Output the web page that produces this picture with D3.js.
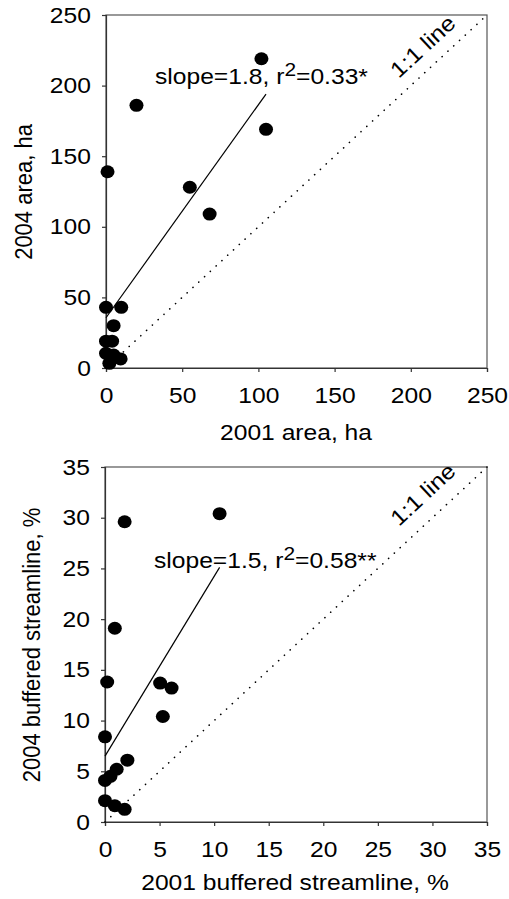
<!DOCTYPE html>
<html><head><meta charset="utf-8">
<script src="https://cdn.jsdelivr.net/npm/d3@7/dist/d3.min.js"></script>
<style>body{margin:0;background:#fff}svg{display:block}text{font-family:"Liberation Sans",Arial,sans-serif;fill:#000}</style>
</head><body>
<svg id="c" width="509" height="899"></svg>
<script>
// Top panel: area, ha
const areaX2001 = [102, 20, 105, 1, 55, 68, 0, 10, 5, 0, 4, 0, 5, 9.6, 2.2];
const areaY2004 = [219, 186, 169, 139, 128, 109, 43, 43, 30, 19, 19, 10.4, 9.2, 6.4, 3.3];
const areaFit = [[0, 35.6], [105, 194]];
const areaTicks = [0, 50, 100, 150, 200, 250];
// Bottom panel: buffered streamline, %
const bufX2001 = [1.8, 10.5, 0.9, 0.2, 5.05, 6.1, 5.3, 0, 2.05, 1.07, 0.5, 0, 0, 0.9, 1.8];
const bufY2004 = [29.6, 30.4, 19.1, 13.8, 13.7, 13.2, 10.4, 8.4, 6.1, 5.2, 4.5, 4.1, 2.1, 1.6, 1.25];
const bufFit = [[0, 6.5], [10.5, 25.1]];
const bufTicks = [0, 5, 10, 15, 20, 25, 30, 35];

const SX = 1.12; // horizontal text stretch
const FS = 22;
const svg = d3.select("#c");

function panel(cfg){
  const x = d3.scaleLinear().domain([0, cfg.max]).range(cfg.xr);
  const y = d3.scaleLinear().domain([0, cfg.max]).range(cfg.yr);
  const g = svg.append("g");
  g.append("rect").attr("x", x(0)).attr("y", y(cfg.max))
    .attr("width", x(cfg.max)-x(0)).attr("height", y(0)-y(cfg.max))
    .attr("fill","none").attr("stroke","#555").attr("stroke-width",1.2);
  const ax = g.append("g").attr("transform",`translate(0,${y(0)})`)
    .call(d3.axisBottom(x).tickValues(cfg.ticks).tickSize(4).tickPadding(15).tickFormat(d3.format("d")));
  const ay = g.append("g").attr("transform",`translate(${x(0)},0)`)
    .call(d3.axisLeft(y).tickValues(cfg.ticks).tickSize(4).tickPadding(9.5).tickFormat(d3.format("d")));
  [ax, ay].forEach(a=>{
    a.select(".domain").attr("stroke","#333").attr("stroke-width",1.2);
    a.selectAll(".tick line").attr("stroke","#333").attr("stroke-width",1.2);
    a.selectAll("text").attr("font-size",FS).attr("font-family","Liberation Sans, Arial, sans-serif").attr("fill","#000");
  });
  ax.selectAll(".tick text").attr("transform",`scale(${SX},1)`);
  ay.selectAll(".tick text").attr("transform",`scale(${SX},1)`);
  g.append("line").attr("x1",x(0)).attr("y1",y(0)).attr("x2",x(cfg.max)).attr("y2",y(cfg.max))
    .attr("stroke","#000").attr("stroke-width",1.6).attr("stroke-dasharray","0.1 7.8").attr("stroke-linecap","round");
  const ang = -Math.atan2(y(0)-y(cfg.max), x(cfg.max)-x(0))*180/Math.PI;
  g.append("text").attr("transform",`translate(${cfg.oneX},${cfg.oneY}) rotate(${ang}) scale(${SX},1)`)
    .attr("text-anchor","middle").attr("font-size",FS).text("1:1 line");
  g.append("path").datum(cfg.fit).attr("d", d3.line().x(d=>x(d[0])).y(d=>y(d[1])))
    .attr("stroke","#000").attr("stroke-width",1.2).attr("fill","none");
  g.selectAll("ellipse").data(cfg.xs).join("ellipse")
    .attr("cx",(d,i)=>x(d)).attr("cy",(d,i)=>y(cfg.ys[i])).attr("rx",7).attr("ry",6.5).attr("fill","#000");
  const t = g.append("text").attr("transform",`translate(${cfg.lx},${cfg.ly}) scale(${SX},1)`).attr("font-size",FS);
  t.append("tspan").text(cfg.l1);
  t.append("tspan").attr("font-size",FS*0.85).attr("dy",-8).text("2");
  t.append("tspan").attr("dy",8).text(cfg.l2);
  g.append("text").attr("transform",`translate(${cfg.xtX},${cfg.xtY}) scale(${SX},1)`)
    .attr("text-anchor","middle").attr("font-size",FS).text(cfg.xt);
  g.append("text").attr("transform",`translate(${cfg.ytX},${cfg.ytY}) rotate(-90) scale(1,${SX})`)
    .attr("text-anchor","middle").attr("font-size",FS).text(cfg.yt);
}

panel({max:250, xr:[106,487], yr:[368,15], ticks:areaTicks, xs:areaX2001, ys:areaY2004, fit:areaFit,
  oneX:428, oneY:52, lx:155, ly:83.5, l1:"slope=1.8, r", l2:"=0.33*",
  xt:"2001 area, ha", xtX:296, xtY:440, yt:"2004 area, ha", ytX:32, ytY:192});
panel({max:35, xr:[105,487], yr:[822,467], ticks:bufTicks, xs:bufX2001, ys:bufY2004, fit:bufFit,
  oneX:428, oneY:500, lx:154, ly:568, l1:"slope=1.5, r", l2:"=0.58**",
  xt:"2001 buffered streamline, %", xtX:295, xtY:890, yt:"2004 buffered streamline, %", ytX:40, ytY:645});
</script>
</body></html>
